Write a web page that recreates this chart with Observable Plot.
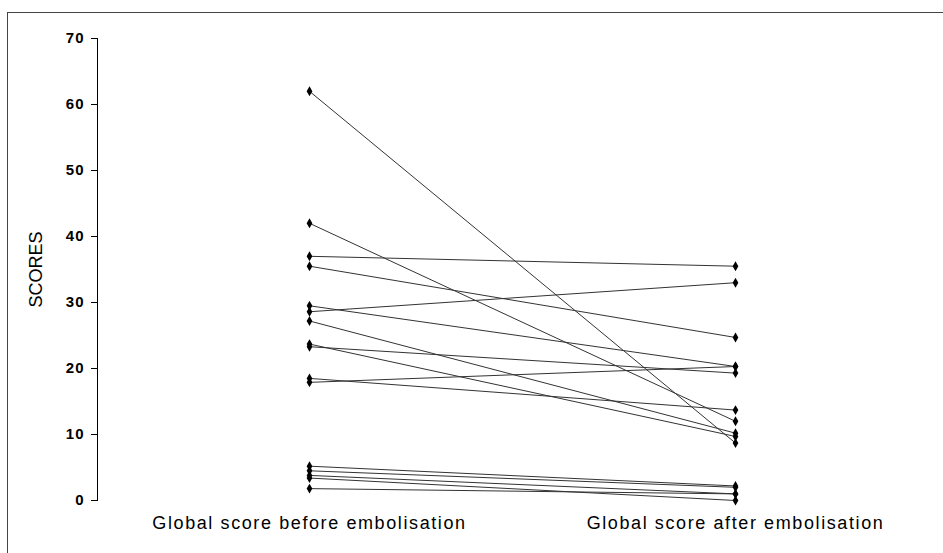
<!DOCTYPE html>
<html>
<head>
<meta charset="utf-8">
<script src="https://cdn.jsdelivr.net/npm/d3@7"></script>
<script src="https://cdn.jsdelivr.net/npm/@observablehq/plot@0.6"></script>
<style>
  html, body { margin: 0; padding: 0; background: #fff; }
  #wrap { position: relative; width: 943px; height: 553px; overflow: hidden; }
  #frame { position: absolute; left: 7px; top: 12px; width: 1000px; height: 1000px; border: 1px solid #444; box-sizing: border-box; }
  #chart { position: absolute; left: 0; top: 0; }
  .yticks text { letter-spacing: 1px; }
  .ylabel text { letter-spacing: 2px; }
  .xax text { letter-spacing: 1.6px; }
</style>
</head>
<body>
<div id="wrap"><div id="frame"></div><div id="chart"></div></div>
<script>
const categories = ["Global score before embolisation", "Global score after embolisation"];
const before = [62, 42, 37, 35.5, 29.5, 28.6, 27.2, 23.7, 23.3, 18.5, 17.9, 5.2, 4.5, 3.8, 3.4, 1.8];
const after  = [8.7, 12, 35.5, 24.7, 20.3, 33, 10.2, 9.7, 19.3, 13.7, 20.3, 2.2, 2.0, 1.0, 0, 1.0];
const yTicks = [0, 10, 20, 30, 40, 50, 60, 70];

const rows = [];
before.forEach((b, i) => {
  rows.push({id: i, stage: categories[0], score: b});
  rows.push({id: i, stage: categories[1], score: after[i]});
});

const font = "Liberation Sans, Arial, sans-serif";
const chart = Plot.plot({
  width: 943,
  height: 553,
  marginLeft: 97,
  marginTop: 38,
  marginBottom: 53,
  marginRight: 40,
  style: {fontFamily: font, background: "transparent", color: "#000"},
  x: {type: "point", domain: categories, range: [309, 735], padding: 0},
  y: {domain: [0, 70], range: [500, 38]},
  marks: [
    Plot.frame({anchor: "left", stroke: "#000", strokeWidth: 1}),
    Plot.axisY({ticks: yTicks, tickSize: 6, tickPadding: 7, fontSize: 15, fontWeight: "bold",
      label: null, stroke: "#000", className: "yticks"}),
    Plot.axisY({ticks: [], tickSize: 0, fontSize: 18, label: "SCORES",
      labelAnchor: "center", labelArrow: "none", labelOffset: 68, className: "ylabel"}),
    Plot.axisX({tickSize: 0, tickPadding: 16, fontSize: 18, label: null, className: "xax"}),
    Plot.line(rows, {x: "stage", y: "score", z: "id", stroke: "#333", strokeWidth: 1}),
    Plot.dot(rows, {x: "stage", y: "score", symbol: "diamond", r: 3, fill: "#000", stroke: "none"})
  ]
});
document.getElementById("chart").appendChild(chart);
</script>
</body>
</html>
